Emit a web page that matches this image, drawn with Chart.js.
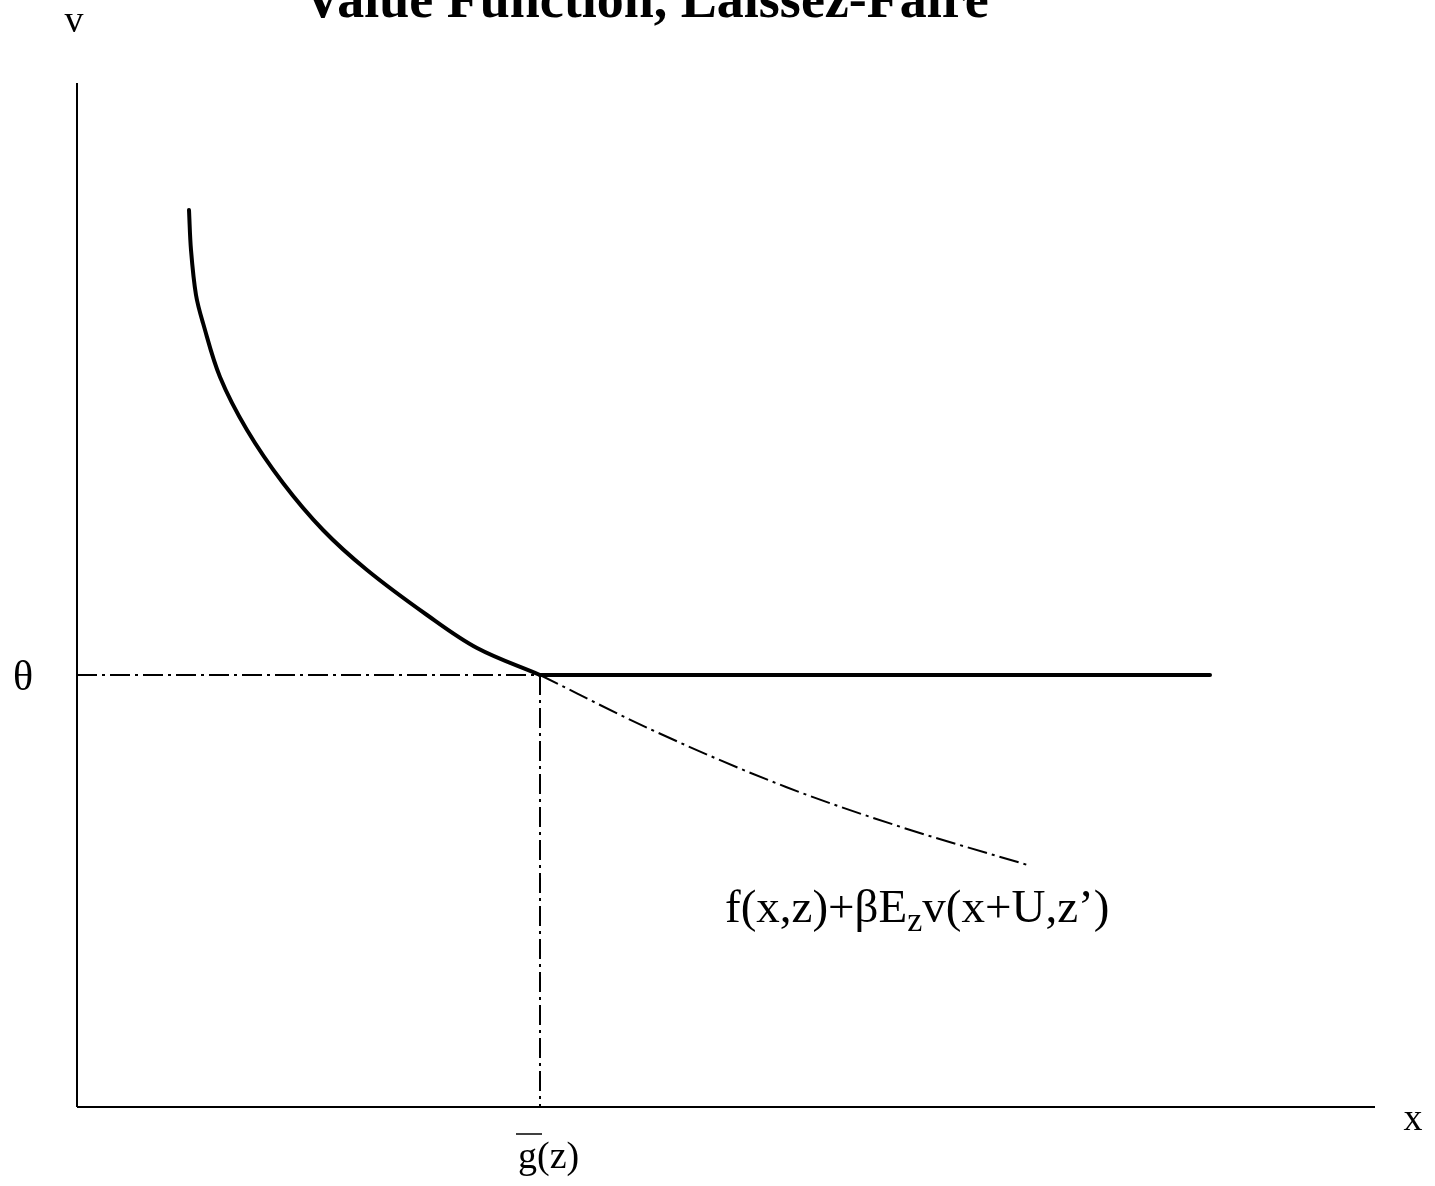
<!DOCTYPE html>
<html>
<head>
<meta charset="utf-8">
<script src="https://cdn.jsdelivr.net/npm/chart.js@4.4.1/dist/chart.umd.min.js"></script>
<style>
    html, body { margin: 0; padding: 0; background: #fff; }
    #wrap { width: 1435px; height: 1186px; position: relative; }
</style>
</head>
<body>
<div id="wrap"><canvas id="valueChart"></canvas></div>
<script>
// levels (1 unit = 100px)
const theta = 4.32;
const gBar = 4.63;

// value function, decreasing part
const curveX = [1.12, 1.14, 1.19, 1.26, 1.43, 1.70, 2.06, 2.46, 2.90, 3.50, 4.00, 4.63];
const curveY = [8.97, 8.57, 8.12, 7.84, 7.30, 6.77, 6.24, 5.77, 5.37, 4.92, 4.59, 4.32];

// flat part at theta
const flatX = [4.63, 11.33];
const flatY = [4.32, 4.32];

// continuation value f(x,z)+bE v(...) beyond g(z)
const contX = [4.63, 5.75, 7.09, 8.24, 9.54];
const contY = [4.32, 3.77, 3.20, 2.80, 2.41];

// axes extent
const axisX = [0, 12.98];
const axisY = [0, 10.24];

const toPts = (xs, ys) => xs.map((x, i) => ({ x: x, y: ys[i] }));
const dashDot = [20, 5, 3, 5];

const textPlugin = {
    id: 'figureText',
    afterDraw(chart) {
        const ctx = chart.ctx;
        const xs = chart.scales.x, ys = chart.scales.y;
        ctx.save();
        ctx.fillStyle = '#000';
        ctx.strokeStyle = '#000';
        ctx.textBaseline = 'alphabetic';

        ctx.textAlign = 'center';
        ctx.font = 'bold 54px "Liberation Serif"';
        ctx.fillText('Value Function, Laissez-Faire', 646, 17);

        ctx.font = '38px "Liberation Serif"';
        ctx.fillText('v', 74, 32);
        ctx.font = '42px "Liberation Serif"';
        ctx.fillText('θ', 23, ys.getPixelForValue(theta) + 15);
        ctx.font = '38px "Liberation Serif"';
        ctx.fillText('x', 1413, 1130);

        // g(z) with bar
        ctx.textAlign = 'left';
        const gx = xs.getPixelForValue(gBar) - 22;
        ctx.fillText('g(z)', gx, 1168);
        ctx.lineWidth = 1.5;
        ctx.beginPath();
        ctx.moveTo(gx - 2, 1134);
        ctx.lineTo(gx + 24, 1134);
        ctx.stroke();

        // curve label with subscript
        let lx = 725;
        const ly = 922;
        const big = '47px "Liberation Serif"';
        const small = '34px "Liberation Serif"';
        const parts = [['f(x,z)+βE', big, 0], ['z', small, 9], ['v(x+U,z’)', big, 0]];
        parts.forEach(p => {
            ctx.font = p[1];
            ctx.fillText(p[0], lx, ly + p[2]);
            lx += ctx.measureText(p[0]).width;
        });
        ctx.restore();
    }
};

const ctx = document.getElementById('valueChart').getContext('2d');

new Chart(ctx, {
    type: 'scatter',
    data: {
        datasets: [
            {
                label: 'x axis',
                data: toPts(axisX, [0, 0]),
                showLine: true, borderColor: '#000', borderWidth: 2, pointRadius: 0, clip: false
            },
            {
                label: 'v axis',
                data: toPts([0, 0], axisY),
                showLine: true, borderColor: '#000', borderWidth: 2, pointRadius: 0, clip: false
            },
            {
                label: 'theta guide',
                data: toPts([0, gBar], [theta, theta]),
                showLine: true, borderColor: '#000', borderWidth: 2, borderDash: dashDot, pointRadius: 0, clip: false
            },
            {
                label: 'g guide',
                data: toPts([gBar, gBar], [theta, 0]),
                showLine: true, borderColor: '#000', borderWidth: 2, borderDash: dashDot, pointRadius: 0, clip: false
            },
            {
                label: 'continuation',
                data: toPts(contX, contY),
                showLine: true, borderColor: '#000', borderWidth: 2, borderDash: dashDot,
                cubicInterpolationMode: 'monotone', pointRadius: 0, clip: false
            },
            {
                label: 'value function',
                data: toPts(curveX, curveY),
                showLine: true, borderColor: '#000', borderWidth: 4, borderCapStyle: 'round',
                borderJoinStyle: 'round', tension: 0.35, pointRadius: 0, clip: false
            },
            {
                label: 'flat',
                data: toPts(flatX, flatY),
                showLine: true, borderColor: '#000', borderWidth: 4, borderCapStyle: 'round', pointRadius: 0, clip: false
            }
        ]
    },
    options: {
        responsive: true,
        maintainAspectRatio: false,
        animation: false,
        layout: { padding: { left: 77, right: 60, top: 83, bottom: 79 } },
        scales: {
            x: { type: 'linear', min: 0, max: 12.98, display: false },
            y: { type: 'linear', min: 0, max: 10.24, display: false }
        },
        plugins: {
            legend: { display: false },
            title: { display: false },
            tooltip: { enabled: false }
        }
    },
    plugins: [textPlugin]
});
</script>
</body>
</html>
